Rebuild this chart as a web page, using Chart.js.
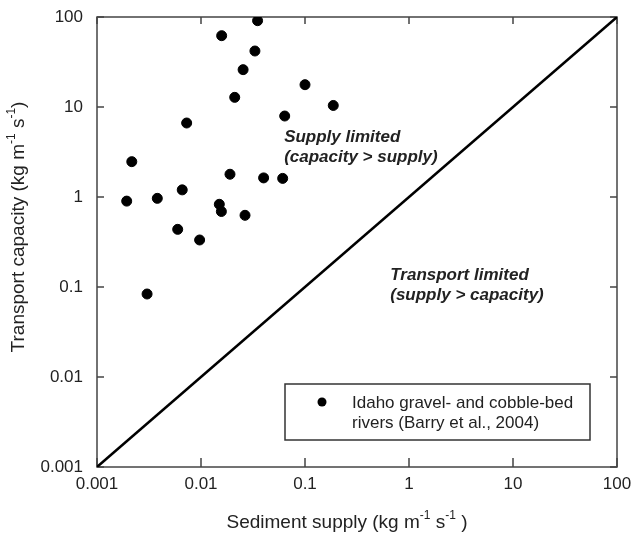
<!DOCTYPE html>
<html>
<head>
<meta charset="utf-8">
<script src="https://cdn.jsdelivr.net/npm/chart.js@4.4.1/dist/chart.umd.min.js"></script>
<style>
    html, body { margin: 0; padding: 0; background: #fff; }
    #wrap { width: 633px; height: 539px; position: relative; }
</style>
</head>
<body>
<div id="wrap"><canvas id="chart"></canvas></div>
<script>
// sediment supply (x) and transport capacity (y), kg m-1 s-1
const supply = [0.0158, 0.035, 0.033, 0.0254, 0.1, 0.0211, 0.0638, 0.00728, 0.187, 0.00216, 0.019,
    0.040, 0.061, 0.0066, 0.00193, 0.0038, 0.015, 0.0157, 0.0265, 0.00597, 0.0097, 0.00303];
const capacity = [62, 91, 41.9, 26, 17.7, 12.8, 7.94, 6.64, 10.4, 2.47, 1.79,
    1.63, 1.61, 1.2, 0.90, 0.966, 0.83, 0.69, 0.626, 0.437, 0.333, 0.0836];
const equalLine = [0.001, 100];
const decadeTicks = [0.001, 0.01, 0.1, 1, 10, 100];
const tickLabels = ['0.001', '0.01', '0.1', '1', '10', '100'];
const seriesLabel = ['Idaho gravel- and cobble-bed', 'rivers (Barry et al., 2004)'];
// axis titles as runs: [text, superscript?]
const xTitle = [['Sediment supply (kg m', 0], ['-1', 1], [' s', 0], ['-1', 1], [' )', 0]];
const yTitle = [['Transport capacity (kg m', 0], ['-1', 1], [' s', 0], ['-1', 1], [')', 0]];
const regionNotes = [
    {lines: ['Supply limited', '(capacity > supply)'], x: 0.063, y: 4.6},
    {lines: ['Transport limited', '(supply > capacity)'], x: 0.66, y: 0.136}
];

const FONT = '"Liberation Sans", Arial, sans-serif';
const INK = '#222';

function decadeScale(pad) {
    return {
        type: 'logarithmic',
        min: 0.001,
        max: 100,
        afterBuildTicks: (scale) => {
            scale.ticks = decadeTicks.map(v => ({value: v}));
        },
        ticks: {
            autoSkip: false,
            maxRotation: 0,
            color: INK,
            font: {family: FONT, size: 17},
            padding: pad,
            callback: (v) => {
                let i = decadeTicks.indexOf(v);
                return i >= 0 ? tickLabels[i] : '';
            }
        },
        grid: {display: false, drawTicks: false},
        border: {display: false},
        title: {display: false}
    };
}

let xScale = decadeScale(7);
xScale.afterFit = (s) => { s.height = 72; s.paddingLeft = 0; s.paddingRight = 0; };
let yScale = decadeScale(14);
yScale.afterFit = (s) => { s.width = 97; s.paddingTop = 0; s.paddingBottom = 0; };

function runWidth(ctx, runs) {
    let w = 0;
    runs.forEach(r => {
        ctx.font = (r[1] ? '12px ' : '19px ') + FONT;
        w += ctx.measureText(r[0]).width;
    });
    return w;
}

function drawRuns(ctx, runs, x, y) {
    runs.forEach(r => {
        ctx.font = (r[1] ? '12px ' : '19px ') + FONT;
        ctx.fillText(r[0], x, r[1] ? y - 7 : y);
        x += ctx.measureText(r[0]).width;
    });
}

// frame with inward decade ticks on all four sides
const framePlugin = {
    id: 'frame',
    beforeDatasetsDraw(chart) {
        const {ctx, chartArea: a, scales} = chart;
        ctx.save();
        ctx.strokeStyle = '#444';
        ctx.lineWidth = 1.5;
        ctx.strokeRect(a.left, a.top, a.right - a.left, a.bottom - a.top);
        ctx.beginPath();
        decadeTicks.forEach(v => {
            let px = scales.x.getPixelForValue(v);
            let py = scales.y.getPixelForValue(v);
            ctx.moveTo(px, a.bottom); ctx.lineTo(px, a.bottom - 9);
            ctx.moveTo(px, a.top); ctx.lineTo(px, a.top + 7);
            ctx.moveTo(a.left, py); ctx.lineTo(a.left + 7, py);
            ctx.moveTo(a.right, py); ctx.lineTo(a.right - 7, py);
        });
        ctx.stroke();

        // axis titles
        ctx.fillStyle = INK;
        ctx.textBaseline = 'middle';
        ctx.textAlign = 'left';
        let xw = runWidth(ctx, xTitle);
        drawRuns(ctx, xTitle, (a.left + a.right) / 2 - 10 - xw / 2, 523);
        let yw = runWidth(ctx, yTitle);
        ctx.translate(19, (a.top + a.bottom) / 2 - 15);
        ctx.rotate(-Math.PI / 2);
        drawRuns(ctx, yTitle, -yw / 2, 0);
        ctx.restore();
    },
    afterDatasetsDraw(chart) {
        const {ctx, scales} = chart;
        ctx.save();
        // region notes
        ctx.fillStyle = INK;
        ctx.font = 'italic bold 17px ' + FONT;
        ctx.textBaseline = 'middle';
        ctx.textAlign = 'left';
        regionNotes.forEach(n => {
            let px = scales.x.getPixelForValue(n.x);
            let py = scales.y.getPixelForValue(n.y);
            n.lines.forEach((t, i) => ctx.fillText(t, px, py + i * 20));
        });
        // legend box
        let lx = 285, ly = 384, lw = 305, lh = 56;
        ctx.fillStyle = '#fff';
        ctx.fillRect(lx, ly, lw, lh);
        ctx.strokeStyle = '#333';
        ctx.lineWidth = 1.5;
        ctx.strokeRect(lx, ly, lw, lh);
        ctx.fillStyle = '#000';
        ctx.beginPath();
        ctx.arc(lx + 37, ly + 18, 4.5, 0, Math.PI * 2);
        ctx.fill();
        ctx.fillStyle = INK;
        ctx.font = '17px ' + FONT;
        seriesLabel.forEach((t, i) => ctx.fillText(t, lx + 67, ly + 19 + i * 20));
        ctx.restore();
    }
};

new Chart(document.getElementById('chart'), {
    type: 'scatter',
    data: {
        datasets: [
            {
                label: seriesLabel.join(' '),
                data: supply.map((s, i) => ({x: s, y: capacity[i]})),
                backgroundColor: '#000',
                borderColor: '#000',
                pointRadius: 5,
                pointHoverRadius: 5
            },
            {
                label: '1:1',
                type: 'line',
                data: equalLine.map(v => ({x: v, y: v})),
                borderColor: '#000',
                borderWidth: 2.5,
                pointRadius: 0,
                fill: false
            }
        ]
    },
    options: {
        responsive: true,
        maintainAspectRatio: false,
        animation: false,
        layout: {padding: {top: 17, right: 16, left: 0, bottom: 0}},
        plugins: {legend: {display: false}, tooltip: {enabled: false}},
        scales: {x: xScale, y: yScale}
    },
    plugins: [framePlugin]
});
</script>
</body>
</html>
